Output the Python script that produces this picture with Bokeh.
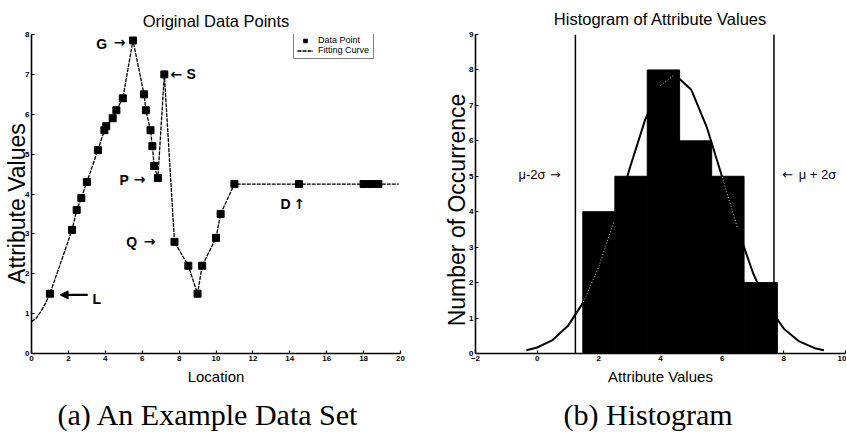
from bokeh.plotting import figure
from bokeh.layouts import row
from bokeh.models import Range1d, Label, Arrow, NormalHead, Title, Legend, LegendItem
from bokeh.embed import file_html
from bokeh.resources import INLINE

# ---------------- data: (a) original data points ----------------
location = [1.0, 2.2, 2.45, 2.7, 3.0, 3.6, 3.95, 4.05, 4.4, 4.6, 4.95, 5.5,
            6.1, 6.2, 6.45, 6.55, 6.65, 6.85, 7.2, 7.75, 8.5, 9.0, 9.25,
            10.0, 10.25, 11.0, 14.5, 18.0, 18.4, 18.8]
attribute = [1.5, 3.1, 3.6, 3.9, 4.3, 5.1, 5.6, 5.7, 5.9, 6.1, 6.4, 7.85,
             6.5, 6.1, 5.6, 5.2, 4.7, 4.4, 7.0, 2.8, 2.2, 1.5, 2.2,
             2.9, 3.5, 4.25, 4.25, 4.25, 4.25, 4.25]
curve_head_x = [0.0, 0.25, 0.5, 0.75]
curve_head_y = [0.8, 0.88, 1.05, 1.25]
curve_tail_x = [19.9]
curve_tail_y = [4.25]

# ---------------- data: (b) histogram ----------------
bin_edges = [1.48, 2.52, 3.57, 4.62, 5.66, 6.71, 7.79]
bin_counts = [4, 5, 8, 6, 5, 2]
mu = 4.46
sigma = 1.61
normal_x = [-0.35, 0.0, 0.5, 1.0, 1.5, 2.0, 2.5, 3.0, 3.5, 4.0, 4.46, 5.0,
            5.5, 6.0, 6.5, 7.0, 7.5, 8.0, 8.5, 9.0, 9.3]
normal_y = [0.09, 0.17, 0.38, 0.78, 1.45, 2.45, 3.75, 5.22, 6.59, 7.56, 7.87,
            7.44, 6.39, 4.98, 3.53, 2.27, 1.32, 0.70, 0.34, 0.15, 0.09]

SANS = "Liberation Sans"
SERIF = "Liberation Serif"
ARROWS = "DejaVu Sans"
NBSP = "\u00a0"


def style(p, ysize, ystandoff):
    p.grid.visible = False
    p.outline_line_color = None
    p.background_fill_color = "white"
    p.border_fill_color = "white"
    for ax in (p.xaxis[0], p.yaxis[0]):
        ax.major_tick_in = 3
        ax.major_tick_out = 0
        ax.minor_tick_line_color = None
        ax.axis_line_width = 1.6
        ax.axis_line_color = "black"
        ax.major_tick_line_color = "black"
        ax.major_tick_line_width = 1.2
        ax.major_label_text_font = SANS
        ax.major_label_text_font_size = "8px"
        ax.major_label_text_font_style = "bold"
        ax.major_label_text_color = "black"
        ax.major_label_standoff = 2
        ax.axis_label_text_font = SANS
        ax.axis_label_text_font_style = "normal"
        ax.axis_label_text_color = "black"
    p.xaxis[0].axis_label_text_font_size = "15px"
    p.xaxis[0].axis_label_standoff = 4
    p.yaxis[0].axis_label_text_font_size = ysize
    p.yaxis[0].axis_label_standoff = ystandoff
    p.title.text_font = SANS
    p.title.text_font_size = "16.5px"
    p.title.text_font_style = "normal"
    p.title.text_color = "black"
    p.title.align = "center"


def word(p, x, y, text, align, font, size, style_):
    p.add_layout(Label(x=x, y=y, text=text, text_align=align, text_baseline="middle",
                       text_font=font, text_font_size=size, text_font_style=style_,
                       text_color="black"))


def caption(p, text, offset):
    p.add_layout(Title(text=text, text_font=SERIF, text_font_size="30px",
                       text_font_style="normal", text_color="black",
                       align="left", offset=offset, standoff=17), "below")


# ---------------- left panel ----------------
p1 = figure(width=420, height=444, x_range=Range1d(0, 20), y_range=Range1d(0, 8),
            title="Original Data Points", output_backend="svg", toolbar_location=None,
            min_border_left=31, min_border_right=20, min_border_top=34, min_border_bottom=91)
style(p1, "23px", -8)
p1.title.standoff = 9
p1.xaxis.ticker = list(range(0, 21, 2))
p1.yaxis.ticker = list(range(0, 9))
p1.xaxis.axis_label = "Location"
p1.yaxis.axis_label = "Attribute Values" + NBSP * 3

cx = curve_head_x + location + curve_tail_x
cy = curve_head_y + attribute + curve_tail_y
fit = p1.line(cx, cy, line_color="black", line_width=1.3, line_dash="4 1")
pts = p1.scatter(location, attribute, marker="square", size=7,
                 fill_color="black", line_color="black")

legend = Legend(items=[LegendItem(label="Data Point", renderers=[pts]),
                       LegendItem(label="Fitting Curve", renderers=[fit])],
                location=(262, 294), padding=3, spacing=0, margin=0,
                label_text_font=SANS, label_text_font_size="9px",
                label_text_color="black", label_height=9, glyph_height=9,
                glyph_width=16, label_standoff=5, label_width=52,
                border_line_color="black", border_line_width=1.5,
                background_fill_alpha=1)
p1.add_layout(legend)

word(p1, 4.1, 7.77, "G", "right", SANS, "14px", "bold")
word(p1, 5.09, 7.8, "→", "right", ARROWS, "14px", "bold")
word(p1, 7.53, 7.02, "←", "left", ARROWS, "14px", "bold")
word(p1, 8.4, 7.0, "S", "left", SANS, "14px", "bold")
word(p1, 5.27, 4.36, "P", "right", SANS, "14px", "bold")
word(p1, 6.18, 4.38, "→", "right", ARROWS, "14px", "bold")
word(p1, 5.73, 2.79, "Q", "right", SANS, "14px", "bold")
word(p1, 6.72, 2.81, "→", "right", ARROWS, "14px", "bold")
word(p1, 13.5, 3.74, "D", "left", SANS, "14px", "bold")
word(p1, 14.2, 3.76, "↑", "left", ARROWS, "14px", "bold")
word(p1, 3.3, 1.37, "L", "left", SANS, "14px", "bold")
p1.add_layout(Arrow(end=NormalHead(size=8, fill_color="black", line_color="black"),
                    x_start=3.05, y_start=1.47, x_end=1.55, y_end=1.47,
                    line_width=2.2, line_color="black"))

caption(p1, "(a) An Example Data Set", 26)

# ---------------- right panel ----------------
p2 = figure(width=426, height=444, x_range=Range1d(-2, 10), y_range=Range1d(0, 9),
            title="Histogram of Attribute Values", output_backend="svg", toolbar_location=None,
            min_border_left=55, min_border_right=1, min_border_top=32, min_border_bottom=91)
style(p2, "23px", -4)
p2.title.standoff = 12
p2.title.vertical_align = "middle"
p2.xaxis.ticker = list(range(-2, 11, 2))
p2.yaxis.ticker = list(range(0, 10))
p2.xaxis.axis_label = "Attribute Values"
p2.yaxis.axis_label = "Number of Occurrence" + NBSP * 5

p2.line(normal_x, normal_y, line_color="black", line_width=2)
p2.quad(left=bin_edges[:-1], right=bin_edges[1:], bottom=0, top=bin_counts,
        fill_color="black", line_color="black")
# part of the fitted curve that runs inside the bars shows as a faint dotted trace
inside_y = []
for xv, yv in zip(normal_x, normal_y):
    keep = float("nan")
    for i in range(len(bin_counts)):
        if bin_edges[i] <= xv < bin_edges[i + 1] and yv < bin_counts[i]:
            keep = yv
    inside_y.append(keep)
p2.line(normal_x, inside_y, line_color="white", line_width=1, line_dash="1 2", line_alpha=0.8)

lo, hi = mu - 2 * sigma, mu + 2 * sigma
p2.segment(x0=[lo, hi], y0=[0, 0], x1=[lo, hi], y1=[9, 9],
           line_color="black", line_width=1.5)

word(p2, 0.27, 5.04, "μ-2σ", "right", SANS, "13px", "normal")
word(p2, 0.76, 5.06, "→", "right", ARROWS, "13px", "normal")
word(p2, 7.95, 5.06, "←", "left", ARROWS, "13px", "normal")
word(p2, 8.48, 5.04, "μ + 2σ", "left", SANS, "13px", "normal")

caption(p2, "(b) Histogram", 88)

layout = row(p1, p2)
open("out.html", "w").write(file_html(layout, INLINE))
